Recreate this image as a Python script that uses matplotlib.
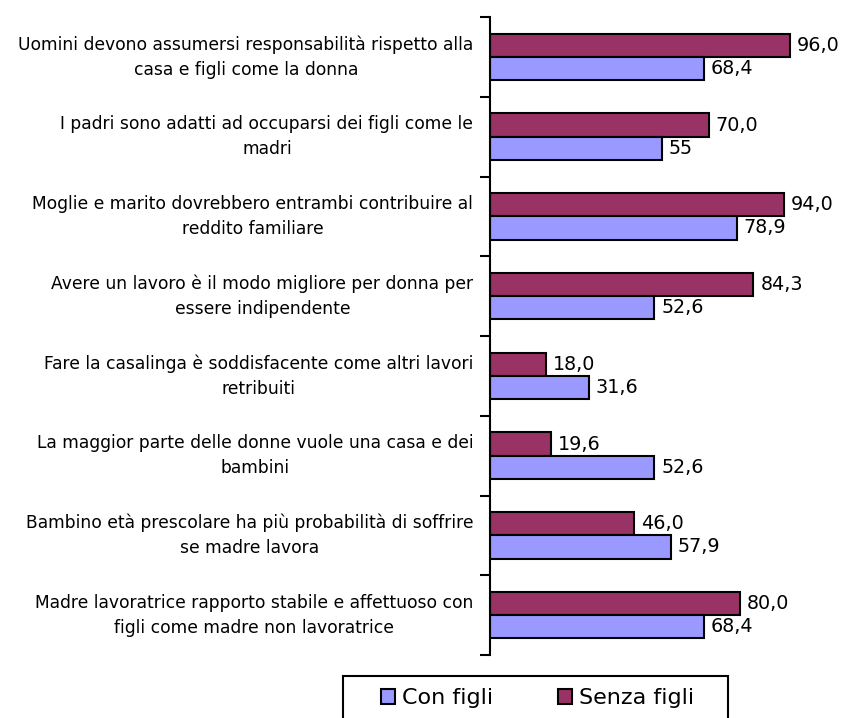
import matplotlib.pyplot as plt
from matplotlib.patches import Rectangle
import numpy as np

plt.rcParams['font.family'] = ['DejaVu Sans']

categorie = [
    "Uomini devono assumersi responsabilità rispetto alla\ncasa e figli come la donna",
    "I padri sono adatti ad occuparsi dei figli come le\nmadri",
    "Moglie e marito dovrebbero entrambi contribuire al\nreddito familiare",
    "Avere un lavoro è il modo migliore per donna per\nessere indipendente",
    "Fare la casalinga è soddisfacente come altri lavori\nretribuiti",
    "La maggior parte delle donne vuole una casa e dei\nbambini",
    "Bambino età prescolare ha più probabilità di soffrire\nse madre lavora",
    "Madre lavoratrice rapporto stabile e affettuoso con\nfigli come madre non lavoratrice",
]
con_figli = [68.4, 55, 78.9, 52.6, 31.6, 52.6, 57.9, 68.4]
con_figli_txt = ["68,4", "55", "78,9", "52,6", "31,6", "52,6", "57,9", "68,4"]
senza_figli = [96.0, 70.0, 94.0, 84.3, 18.0, 19.6, 46.0, 80.0]

col_con = '#9999FF'
col_senza = '#993366'

W, H = 843, 718
fig = plt.figure(figsize=(W / 100, H / 100), dpi=100)
ax = fig.add_axes([490 / W, 1 - 655 / H, 312.5 / W, 638 / H])

y = np.arange(len(categorie))
h = 0.29
b_senza = ax.barh(y - h / 2, senza_figli, height=h, color=col_senza,
                  edgecolor='black', linewidth=1.5, label='Senza figli')
b_con = ax.barh(y + h / 2, con_figli, height=h, color=col_con,
                edgecolor='black', linewidth=1.5, label='Con figli')

for yi, v in zip(y, senza_figli):
    ax.text(v + 2.2, yi - h / 2, f"{v:.1f}".replace('.', ','),
            va='center', ha='left', fontsize=13.8)
for yi, v, t in zip(y, con_figli, con_figli_txt):
    ax.text(v + 2.2, yi + h / 2, t, va='center', ha='left', fontsize=13.8)

ax.set_xlim(0, 100)
ax.set_ylim(len(categorie) - 0.5, -0.5)

# etichette delle categorie al centro del gruppo, tacche ai bordi
ax.set_yticks(y)
ax.set_yticklabels(categorie, fontsize=12.3, linespacing=1.5)
for lab in ax.get_yticklabels():
    lab.set_multialignment('center')
    lab.set_va('center')
ax.tick_params(axis='y', which='major', length=0, pad=12)
ax.set_yticks(np.arange(len(categorie) + 1) - 0.5, minor=True)
ax.tick_params(axis='y', which='minor', length=7, width=1.5, direction='out')

ax.set_xticks([])
for s in ['top', 'right', 'bottom']:
    ax.spines[s].set_visible(False)
ax.spines['left'].set_linewidth(1.5)

# legenda con riquadro che esce dal bordo inferiore
leg = fig.legend(handles=[b_con, b_senza], loc='center left',
                 bbox_to_anchor=(381 / W, 1 - 698 / H), ncol=2,
                 fontsize=16, frameon=False,
                 handlelength=0.64, handleheight=0.64,
                 handletextpad=0.32, columnspacing=2.9, borderpad=0,
                 borderaxespad=0)
fig.add_artist(Rectangle((343 / W, -0.02), (728 - 343) / W, 0.02 + 42 / H,
                         transform=fig.transFigure, fill=False,
                         edgecolor='black', linewidth=1.5, clip_on=False))

fig.savefig('out.png', dpi=100)
